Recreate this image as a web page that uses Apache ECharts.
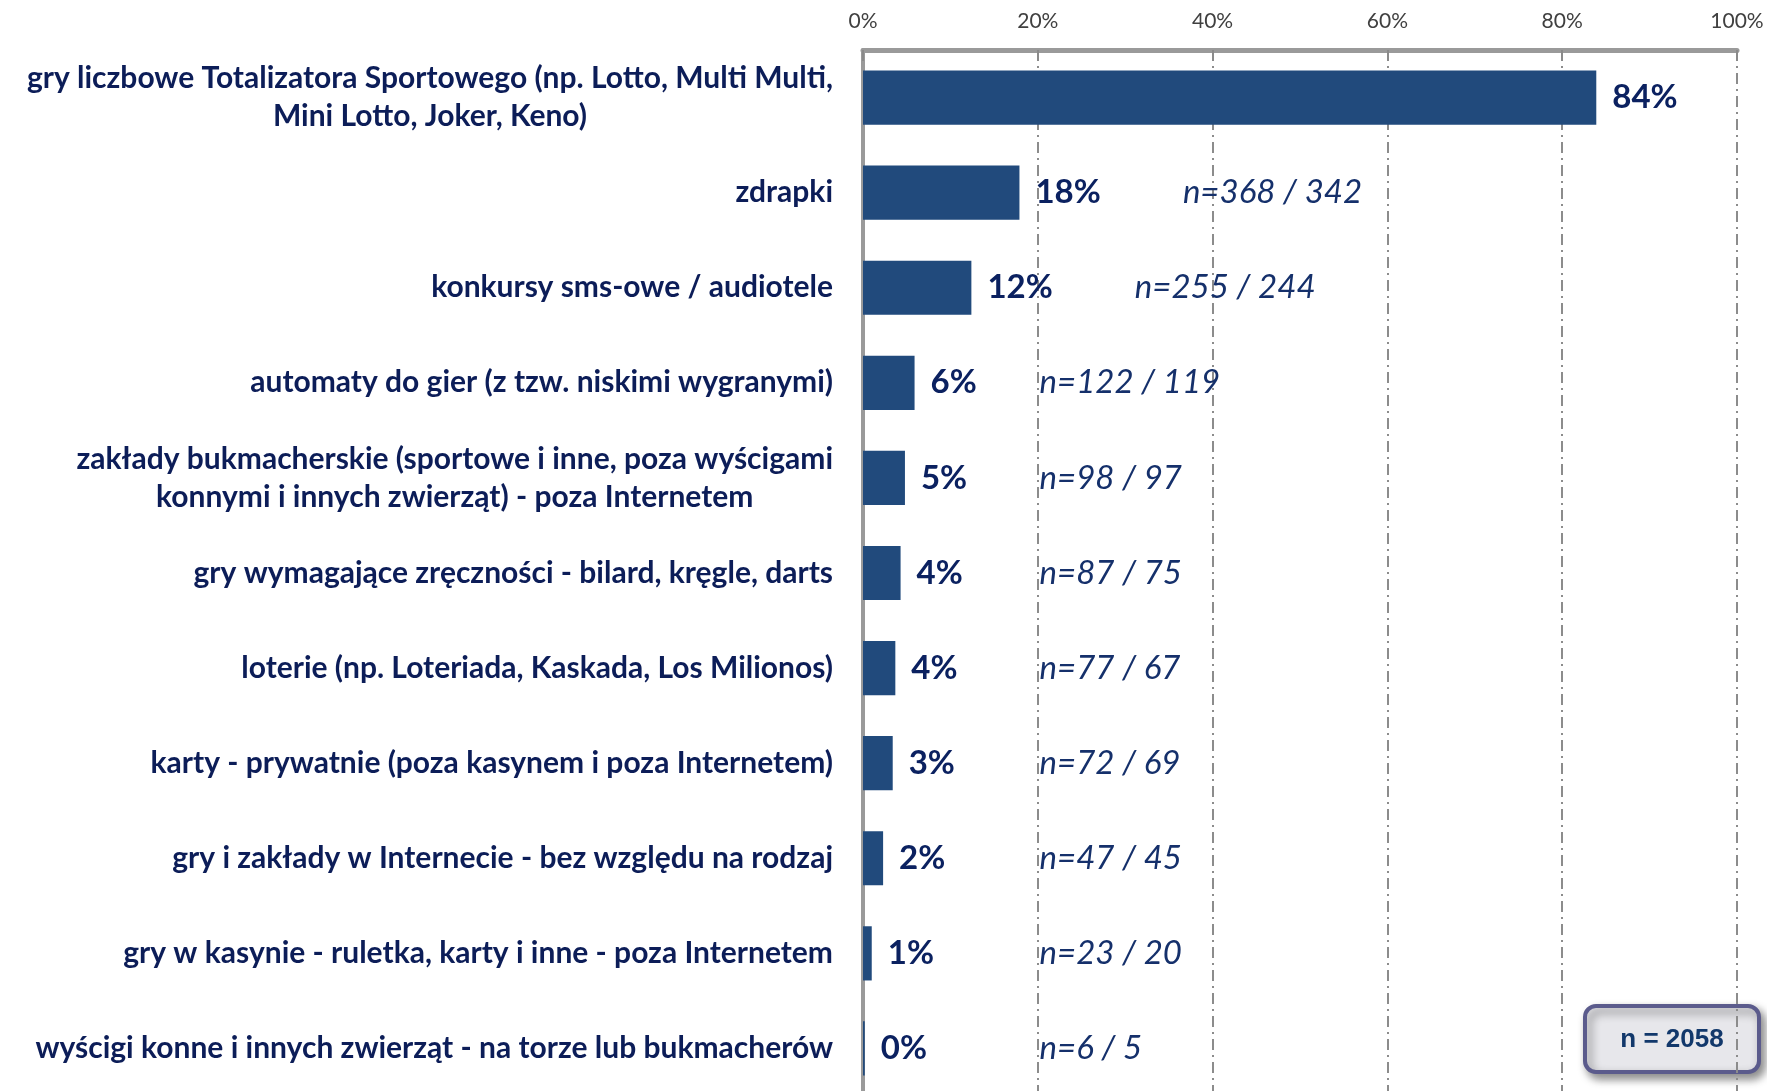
<!DOCTYPE html>
<html>
<head>
<meta charset="utf-8">
<title>gry</title>
<script src="https://cdn.jsdelivr.net/npm/echarts@6.0.0/dist/echarts.min.js"></script>
<style>
  html, body { margin: 0; padding: 0; background: #fff; }
  #main { width: 1767px; height: 1091px; }
</style>
</head>
<body>
<div id="main"></div>
<script>
// dane
var categories = [
	'gry liczbowe Totalizatora Sportowego (np. Lotto, Multi Multi,\nMini Lotto, Joker, Keno)',
	'zdrapki',
	'konkursy sms-owe / audiotele',
	'automaty do gier (z tzw. niskimi wygranymi)',
	'zakłady bukmacherskie (sportowe i inne, poza wyścigami\nkonnymi i innych zwierząt) - poza Internetem',
	'gry wymagające zręczności - bilard, kręgle, darts',
	'loterie (np. Loteriada, Kaskada, Los Milionos)',
	'karty - prywatnie (poza kasynem i poza Internetem)',
	'gry i zakłady w Internecie - bez względu na rodzaj',
	'gry w kasynie - ruletka, karty i inne - poza Internetem',
	'wyścigi konne i innych zwierząt - na torze lub bukmacherów'
];
var values = [83.9, 17.9, 12.4, 5.9, 4.8, 4.3, 3.7, 3.4, 2.3, 1.0, 0.2];
var nLabels = ['', 'n=368 / 342', 'n=255 / 244', 'n=122 / 119', 'n=98 / 97', 'n=87 / 75',
	'n=77 / 67', 'n=72 / 69', 'n=47 / 45', 'n=23 / 20', 'n=6 / 5'];
var xTicks = [0, 20, 40, 60, 80, 100];
var totalN = 'n = 2058';

var navy = '#0c1d58';
var font = 'Lato, "Open Sans", sans-serif';

var myChart = echarts.init(document.getElementById('main'));

var option = {
	animation: false,
	grid: {
		left: 863,
		top: 50,
		width: 874,
		height: 1046,
		containLabel: false,
		outerBoundsMode: 'none'
	},
	xAxis: {
		type: 'value',
		position: 'top',
		min: xTicks[0],
		max: xTicks[xTicks.length - 1],
		interval: xTicks[1] - xTicks[0],
		axisLabel: {
			formatter: '{value}%',
			fontFamily: font,
			fontSize: 21,
			color: '#404040',
			margin: 18
		},
		axisLine: {
			show: true,
			lineStyle: { color: '#9a9a9a', width: 5 }
		},
		axisTick: {
			show: true,
			inside: true,
			length: 11,
			lineStyle: { color: '#8a8a8a', width: 2 }
		},
		splitLine: {
			show: true,
			lineStyle: {
				color: '#8c8c8c',
				width: 2,
				type: [11, 5, 2, 5]
			}
		}
	},
	yAxis: {
		type: 'category',
		inverse: true,
		data: categories,
		axisLine: {
			show: true,
			lineStyle: { color: '#9a9a9a', width: 4 }
		},
		axisTick: { show: false },
		axisLabel: {
			interval: 0,
			margin: 30,
			formatter: function (v) {
				// kazda linia wysrodkowana w bloku
				return v.split('\n').map(function (s) { return '{c|' + s + '}'; }).join('\n');
			},
			rich: {
				c: {
					align: 'center',
					fontFamily: font,
					fontWeight: 'bold',
					fontSize: 30,
					lineHeight: 38,
					color: navy
				}
			}
		}
	},
	series: [
		{
			name: 'odsetek',
			type: 'bar',
			data: values,
			barWidth: '57%',
			itemStyle: { color: '#214a7c' },
			label: {
				show: true,
				position: 'right',
				distance: 16,
				formatter: function (p) { return Math.round(p.value) + '%'; },
				fontFamily: font,
				fontWeight: 'bold',
				fontSize: 33,
				color: '#0b2160'
			}
		},
		{
			// etykiety liczebnosci n
			name: 'n',
			type: 'custom',
			silent: true,
			data: values.map(function (v, i) { return [v, i]; }),
			renderItem: function (params, api) {
				var v = api.value(0);
				var txt = nLabels[params.dataIndex];
				if (!txt) return null;
				var x = v >= 10 ? v + 18.7 : 20.2;
				var pt = api.coord([x, api.value(1)]);
				return {
					type: 'text',
					x: pt[0],
					y: pt[1],
					style: {
						text: txt,
						fontFamily: font,
						fontStyle: 'italic',
						fontSize: 33,
						fill: '#15306b',
						align: 'left',
						verticalAlign: 'middle'
					}
				};
			},
			encode: { x: 0, y: 1 },
			z: 5
		}
	],
	graphic: [
		{
			type: 'group',
			left: 1583,
			top: 1004,
			z: 100,
			children: [
				{
					type: 'rect',
					shape: { x: 0, y: 0, width: 174, height: 66, r: 11 },
					style: {
						fill: '#e7e7eb',
						stroke: '#5b5b8c',
						lineWidth: 4,
						shadowBlur: 10,
						shadowOffsetX: 4,
						shadowOffsetY: 5,
						shadowColor: 'rgba(0,0,0,0.45)'
					}
				},
				{
					type: 'text',
					x: 87,
					y: 34,
					style: {
						text: totalN,
						fontFamily: '"Liberation Sans", Arial, sans-serif',
						fontWeight: 'bold',
						fontSize: 26,
						fill: '#12386b',
						align: 'center',
						verticalAlign: 'middle'
					}
				}
			]
		}
	]
};

myChart.setOption(option);
window.onresize = myChart.resize;
</script>
</body>
</html>
